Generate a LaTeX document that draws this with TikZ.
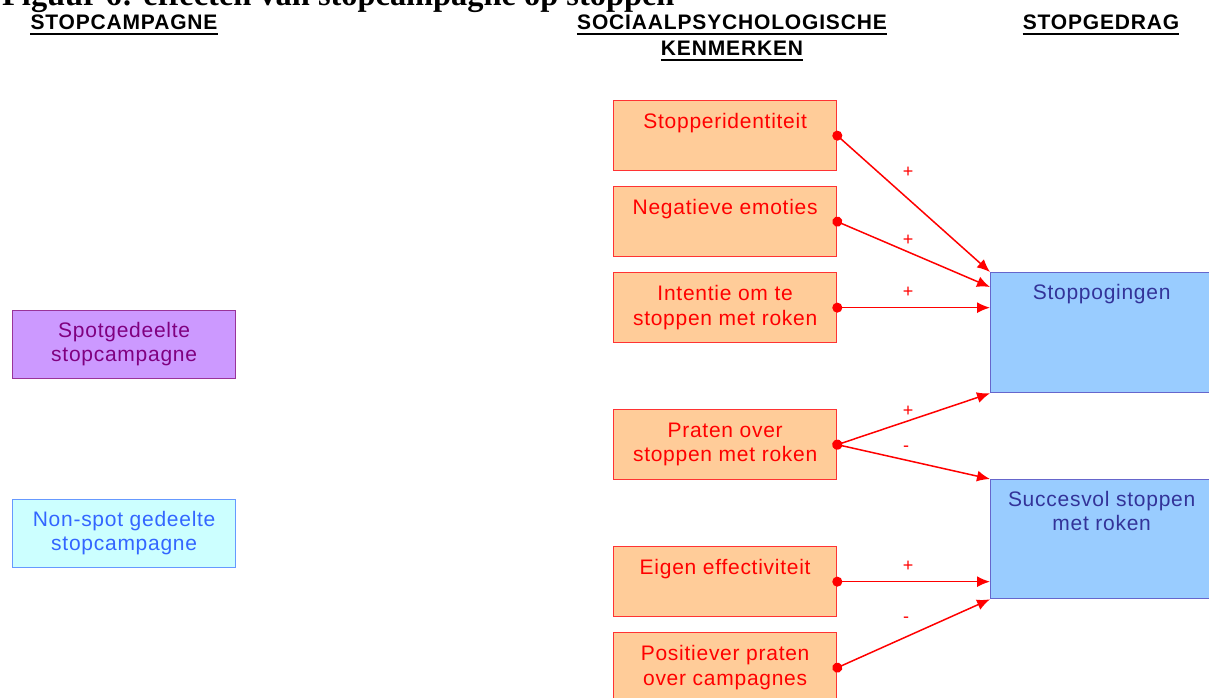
\documentclass[tikz,border=0pt]{standalone}
\usepackage{fontspec}
\setmainfont{Liberation Sans}
\newfontfamily\titlefont{Liberation Serif}
\newfontfamily\headfont{Liberation Sans}[LetterSpace=4]
\newfontfamily\boxfont{Liberation Sans}[LetterSpace=3.5]
\usetikzlibrary{arrows.meta,positioning}

\definecolor{ofill}{HTML}{FFCC99}
\definecolor{oline}{HTML}{FF3333}
\definecolor{otext}{HTML}{FF0000}
\definecolor{pfill}{HTML}{CC99FF}
\definecolor{pline}{HTML}{993399}
\definecolor{ptext}{HTML}{800080}
\definecolor{cfill}{HTML}{CCFFFF}
\definecolor{cline}{HTML}{6699FF}
\definecolor{ctext}{HTML}{3366FF}
\definecolor{bfill}{HTML}{99CCFF}
\definecolor{bline}{HTML}{6666CC}
\definecolor{btext}{HTML}{333399}
\definecolor{ared}{HTML}{FF0000}

\begin{document}
\begin{tikzpicture}
  [x=1pt,y=-1pt,every node/.style={inner sep=0},
   anybox/.style={line width=1.3pt,minimum width=223pt,minimum height=70pt,anchor=north west},
   obox/.style={anybox,draw=oline,fill=ofill},
   pbox/.style={anybox,draw=pline,fill=pfill,minimum height=68pt},
   cbox/.style={anybox,draw=cline,fill=cfill,minimum height=68pt},
   bbox/.style={anybox,draw=bline,fill=bfill,minimum width=222pt,minimum height=120pt},
   btxt/.style={align=center,anchor=north,font=\boxfont\fontsize{21}{24.5}\selectfont},
   head/.style={anchor=base,font=\headfont\bfseries\fontsize{21}{26}\selectfont},
   uline/.style={line width=2.5pt},
   rel/.style={draw=ared,line width=1.5pt,shorten <=-5pt,
     {Circle[length=10pt]}-{Latex[length=13pt,width=11pt]}},
   sign/.style={text=ared,font=\fontsize{18}{18}\selectfont}]

  \useasboundingbox (0,0) rectangle (1209,698);
  \clip (0,0) rectangle (1209,698);

  \node[anchor=base west,font=\titlefont\bfseries\fontsize{32.4}{36}\selectfont] (title) at (2,5.5)
    {Figuur 6: effecten van stopcampagne op stoppen};

  \node[head] (hcamp) at (124,30) {STOPCAMPAGNE};
  \node[head] (hsoc1) at (732,30) {SOCIAALPSYCHOLOGISCHE};
  \node[head] (hsoc2) at (732,56) {KENMERKEN};
  \node[head] (hgedrag) at (1101,30) {STOPGEDRAG};
  \foreach \h in {hcamp,hsoc1,hsoc2,hgedrag}
    \draw[uline] ([yshift=-4pt]\h.base west) -- ([yshift=-4pt]\h.base east);

  \node[pbox] (spot) at (12,310) {};
  \node[btxt,text=ptext] (spot-t) at ([yshift=-12pt]spot.north) {Spotgedeelte\\stopcampagne};
  \node[cbox] (nonspot) at (12,499) {};
  \node[btxt,text=ctext] (nonspot-t) at ([yshift=-12pt]nonspot.north) {Non-spot gedeelte\\stopcampagne};

  \node[obox] (ident) at (613,100) {};
  \node[btxt,text=otext] (ident-t) at ([yshift=-13pt]ident.north) {Stopperidentiteit};
  \node[obox] (emot) at (613,186) {};
  \node[btxt,text=otext] (emot-t) at ([yshift=-13pt]emot.north) {Negatieve emoties};
  \node[obox] (intent) at (613,272) {};
  \node[btxt,text=otext] (intent-t) at ([yshift=-13.5pt]intent.north) {Intentie om te\\stoppen met roken};
  \node[obox] (praten) at (613,409) {};
  \node[btxt,text=otext] (praten-t) at ([yshift=-13.5pt]praten.north) {Praten over\\stoppen met roken};
  \node[obox] (eigen) at (613,546) {};
  \node[btxt,text=otext] (eigen-t) at ([yshift=-13pt]eigen.north) {Eigen effectiviteit};
  \node[obox] (posit) at (613,632) {};
  \node[btxt,text=otext] (posit-t) at ([yshift=-13.5pt]posit.north) {Positiever praten\\over campagnes};

  \node[bbox] (pogingen) at (990,272) {};
  \node[btxt,text=btext] (pogingen-t) at ([yshift=-12pt]pogingen.north) {Stoppogingen};
  \node[bbox,minimum height=119pt] (succes) at (990,479) {};
  \node[btxt,text=btext] (succes-t) at ([yshift=-12pt]succes.north) {Succesvol stoppen\\met roken};

  \draw[rel] (ident.east) -- (pogingen.north west);
  \draw[rel] (emot.east) -- ([yshift=-15pt]pogingen.north west);
  \draw[rel] (intent.east) -- (pogingen.west |- intent.east);
  \draw[rel] (praten.east) -- (pogingen.south west);
  \draw[rel] (praten.east) -- (succes.north west);
  \draw[rel] (eigen.east) -- (succes.west |- eigen.east);
  \draw[rel] (posit.east) -- (succes.south west);

  \node[sign] (s1) at (908,172) {+};
  \node[sign] (s2) at (908,240) {+};
  \node[sign] (s3) at (908,292) {+};
  \node[sign] (s4) at (908,411) {+};
  \node[sign] (s5) at (906,449) {-};
  \node[sign] (s6) at (908,566) {+};
  \node[sign] (s7) at (906,620) {-};
\end{tikzpicture}
\end{document}
